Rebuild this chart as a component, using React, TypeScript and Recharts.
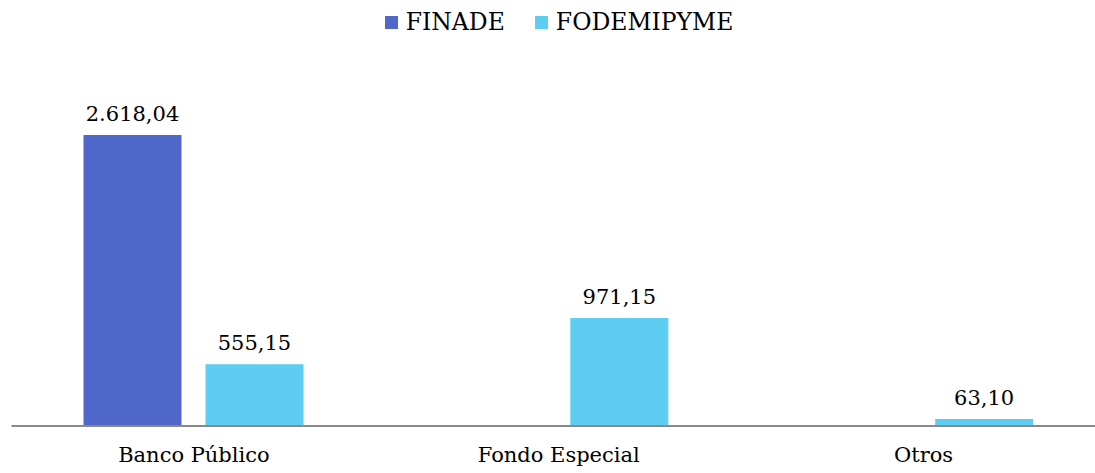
import { Bar, BarChart, LabelList, Legend, XAxis, YAxis } from "recharts";

const categories = ["Banco Público", "Fondo Especial", "Otros"];
const finade: (number | null)[] = [2618.04, null, null];
const fodemipyme: (number | null)[] = [555.15, 971.15, 63.1];

const seriesNames = ["FINADE", "FODEMIPYME"];
const seriesColors = ["#4F67C9", "#5DCDF2"];

const data = categories.map((name, i) => ({
  name,
  finade: finade[i],
  fodemipyme: fodemipyme[i],
}));

const FONT = "DejaVu Serif";
const FS = 21;

function formatEs(v: unknown) {
  if (v === null || v === undefined || v === "") return "";
  const [int, dec] = Number(v).toFixed(2).split(".");
  return `${int.replace(/\B(?=(\d{3})+(?!\d))/g, ".")},${dec}`;
}

function LegendContent() {
  return (
    <div
      style={{
        height: 40,
        display: "flex",
        justifyContent: "center",
        alignItems: "center",
        gap: 30,
        fontFamily: FONT,
        fontSize: 23.5,
        color: "#000",
      }}
    >
      {seriesNames.map((n, i) => (
        <span key={n} style={{ display: "flex", alignItems: "center" }}>
          <span
            style={{
              width: 13,
              height: 13,
              background: seriesColors[i],
              marginRight: 8,
              display: "inline-block",
            }}
          />
          {n}
        </span>
      ))}
    </div>
  );
}

export default function App() {
  return (
    <div
      style={{
        position: "fixed",
        top: 0,
        left: 0,
        width: 1095,
        height: 473,
        overflow: "hidden",
        background: "#fff",
      }}
    >
      <BarChart
        width={1106}
        height={473}
        data={data}
        margin={{ top: 52.5, right: 0, left: 11.5, bottom: 0 }}
        barCategoryGap={72}
        barGap={24}
      >
        <Legend
          verticalAlign="top"
          content={<LegendContent />}
          wrapperStyle={{ top: 2, left: 0, width: 1118 }}
        />
        <YAxis hide domain={[0, 3000]} />
        <XAxis
          dataKey="name"
          height={47}
          tickLine={false}
          tickSize={0}
          tickMargin={21}
          stroke="#898989"
          strokeWidth={2}
          tick={{ fill: "#000", fontSize: FS, fontFamily: FONT }}
        />
        <Bar dataKey="finade" fill={seriesColors[0]} isAnimationActive={false}>
          <LabelList
            dataKey="finade"
            position="top"
            offset={14}
            formatter={formatEs}
            style={{ fill: "#000", fontSize: FS, fontFamily: FONT }}
          />
        </Bar>
        <Bar dataKey="fodemipyme" fill={seriesColors[1]} isAnimationActive={false}>
          <LabelList
            dataKey="fodemipyme"
            position="top"
            offset={14}
            formatter={formatEs}
            style={{ fill: "#000", fontSize: FS, fontFamily: FONT }}
          />
        </Bar>
      </BarChart>
    </div>
  );
}
